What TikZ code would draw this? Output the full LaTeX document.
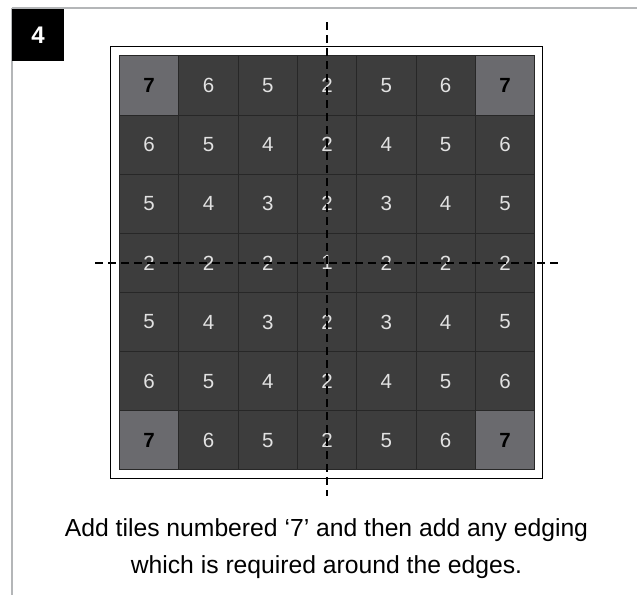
\documentclass[tikz,border=0pt]{standalone}
\usepackage{fontspec}
\setmainfont{Liberation Sans}
\definecolor{tiledark}{HTML}{3D3D3D}
\definecolor{tilecorner}{HTML}{6A6A6E}
\definecolor{tileline}{HTML}{272727}
\definecolor{numlight}{HTML}{E2E2E2}
\definecolor{panelgray}{HTML}{B4B6B8}
\begin{document}
\begin{tikzpicture}[x=1pt,y=-1pt,
  tile/.style={draw=tileline, line width=1pt, fill=tiledark, minimum size=59.3pt, inner sep=0pt, anchor=center, text=numlight, font=\fontsize{20.5}{20.5}\selectfont},
  cornertile/.style={tile, fill=tilecorner, text=black, font=\fontsize{20.5}{20.5}\selectfont\bfseries},
  axisline/.style={line width=2pt, dash pattern=on 8pt off 5pt},
  caption/.style={font=\fontsize{24.7}{24.7}\selectfont, text=black, inner sep=0pt}
]
\useasboundingbox (0,0) rectangle (637,595);
\fill[white] (0,0) rectangle (637,595);
% panel borders
\draw[panelgray, line width=1.5pt] (12,8) -- (637,8);
\draw[panelgray, line width=1.5pt] (12,8) -- (12,595);
% step label
\node[fill=black, minimum width=52pt, minimum height=52pt, inner sep=0pt, text=white, font=\fontsize{24}{24}\selectfont\bfseries] (lbl) at (38,35) {4};
% outer frame
\node[draw=black, line width=1.6pt, minimum size=432pt, inner sep=0pt] (frame) at (326.5,262.5) {};
% tiles
\foreach \r/\row in {1/{7,6,5,2,5,6,7},2/{6,5,4,2,4,5,6},3/{5,4,3,2,3,4,5},4/{2,2,2,1,2,2,2},5/{5,4,3,2,3,4,5},6/{6,5,4,2,4,5,6},7/{7,6,5,2,5,6,7}}{
  \foreach \v [count=\c] in \row {
    \pgfmathsetmacro{\cx}{119.5+59.3*(\c-0.5)}
    \pgfmathsetmacro{\cy}{56+59.1*(\r-0.5)}
    \ifnum\v=7
      \node[cornertile] (t-\r-\c) at (\cx,\cy) {\v};
    \else
      \node[tile] (t-\r-\c) at (\cx,\cy) {\v};
    \fi
  }
}
% axis lines
\coordinate (vtop) at (326.5,22);
\coordinate (vbot) at (326.5,496);
\coordinate (hleft) at (95,262.5);
\coordinate (hright) at (558,262.5);
\draw[axisline] (vtop) -- (vbot);
\draw[axisline] (hleft) -- (hright);
% caption
\node[caption] (cap1) at (326.5,530) {Add tiles numbered ‘7’ and then add any edging};
\node[caption] (cap2) at (326.5,567) {which is required around the edges.};
\end{tikzpicture}
\end{document}
